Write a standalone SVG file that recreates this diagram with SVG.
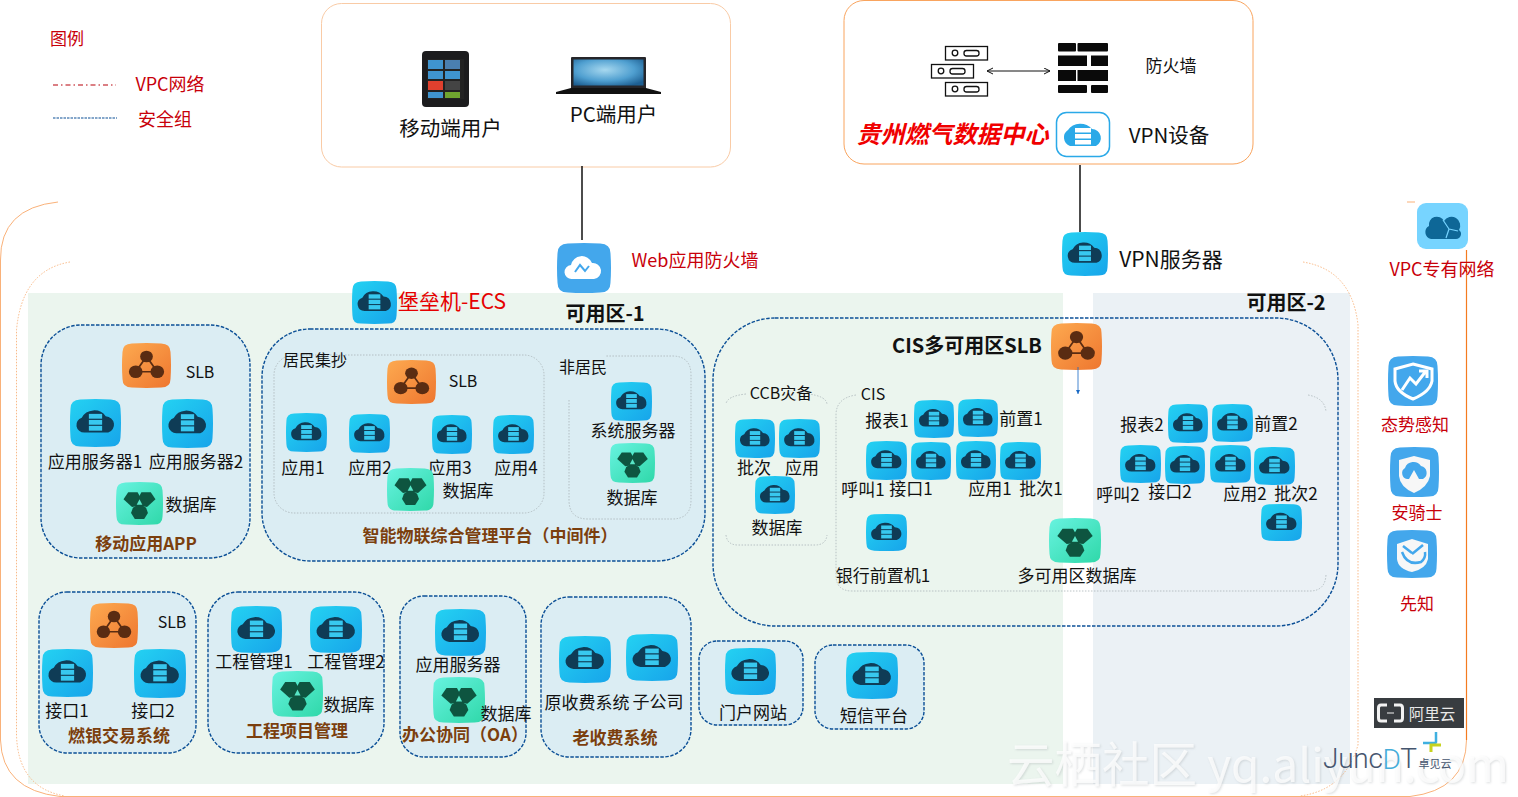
<svg xmlns="http://www.w3.org/2000/svg" width="1518" height="797" viewBox="0 0 1518 797">
<style>
text{font-family:"Noto Sans CJK SC","Noto Sans",sans-serif;dominant-baseline:central;text-anchor:middle;fill:#111;font-size:17px;transform:translateY(-1.5px)}
.r{fill:#c8000a;font-size:18px}
.b{fill:#7b3f0e;font-size:17px;font-weight:700}
.h{font-weight:700;font-size:20px;fill:#111}
.sg{fill:#dbedf3;stroke:#0b4f96;stroke-width:1.4;stroke-dasharray:3.500 1.500}
.in{fill:none;stroke:#aab4b8;stroke-width:.8;stroke-dasharray:1.5 1.5}
.vpc{fill:none;stroke:#f8a86a;stroke-width:.9}
.vpc2{fill:none;stroke:#f8a86a;stroke-width:.8;stroke-dasharray:1.5 1.5}
.link{stroke:#111;stroke-width:1.5;fill:none}
</style>
<defs>
<linearGradient id="gs" x1="0" y1="0" x2="1" y2="1"><stop offset="0" stop-color="#24d2f2"/><stop offset="1" stop-color="#17a4ea"/></linearGradient>
<linearGradient id="go" x1="0" y1="0" x2="1" y2="1"><stop offset="0" stop-color="#fdaa50"/><stop offset="1" stop-color="#ee762f"/></linearGradient>
<linearGradient id="gd" x1="0" y1="0" x2="1" y2="1"><stop offset="0" stop-color="#68f3e0"/><stop offset="1" stop-color="#2fd8a9"/></linearGradient>
<radialGradient id="gl" cx=".45" cy=".4" r=".7"><stop offset="0" stop-color="#a7d8ef"/><stop offset=".6" stop-color="#4f9fd0"/><stop offset="1" stop-color="#1d5f92"/></radialGradient>
<marker id="ab" markerWidth="6" markerHeight="6" refX="5" refY="2.5" orient="auto"><path d="M0 0L5 2.5L0 5Z" fill="#1768c4"/></marker>
<marker id="ak" markerWidth="8" markerHeight="8" refX="7" refY="3.5" orient="auto-start-reverse"><path d="M1 .5L7 3.5L1 6.5" fill="none" stroke="#111"/></marker>
<filter id="wm" x="-5%" y="-20%" width="110%" height="140%"><feDropShadow dx="1" dy="1" stdDeviation="1" flood-color="#9aa0a4" flood-opacity=".45"/></filter>
<path id="sq" d="M10 .5Q25 -.5 40 .5Q49.500 1 49.500 10Q50.500 25 49.500 40Q49.500 49.500 40 49.500Q25 50.500 10 49.500Q.5 49.500 .5 40Q-.5 25 .5 10Q.5 1 10 .5Z"/>
<symbol id="srv" viewBox="0 0 50 50" preserveAspectRatio="none">
<use href="#sq" fill="url(#gs)"/>
<path d="M14 35A8 8 0 0 1 11.500 19.500A13.500 13.500 0 0 1 35 18A8.800 8.800 0 0 1 37.500 35Z" fill="#0f3c56"/>
<rect x="18.500" y="15.500" width="13" height="5" fill="#38c8ef"/><rect x="18.500" y="21.800" width="13" height="5" fill="#38c8ef"/><rect x="18.500" y="28" width="13" height="5" fill="#38c8ef"/>
</symbol>
<symbol id="slb" viewBox="0 0 50 50" preserveAspectRatio="none">
<use href="#sq" fill="url(#go)"/>
<path d="M25 15L14 32H36Z" fill="none" stroke="#5a2c12" stroke-width="1.800"/>
<circle cx="25" cy="15" r="6.500" fill="#5a2c12"/><circle cx="14" cy="32" r="7" fill="#5a2c12"/><circle cx="36" cy="32" r="7" fill="#5a2c12"/>
</symbol>
<symbol id="db" viewBox="0 0 50 50" preserveAspectRatio="none">
<use href="#sq" fill="url(#gd)"/>
<g fill="#0e5540"><path d="M13 12H23L27 20L23 28L17 29L8 20Z"/><path d="M37 12H27L23 20L27 28L33 29L42 20Z"/><path d="M18 30L25 25L32 30L34 36L30 43H20L16 36Z"/></g>
<path d="M25 20L28 26.500H22Z" fill="#58e5c6"/>
</symbol>
<symbol id="blue" viewBox="0 0 50 50" preserveAspectRatio="none"><use href="#sq" fill="#43a7ec"/></symbol>
</defs>

<g id="zones">
<rect x="28" y="293" width="1035" height="491" fill="#ebf5ee"/>
<rect x="1093" y="293" width="257" height="491" fill="#ebf1f5"/>
</g>
<g id="vpc-frame">
<path class="vpc" d="M58 202Q0 208 .5 260V740Q2 790 60 796.500H1410Q1466 790 1466.500 740M1407 202H1415" />
<path style="fill:none;stroke:#f47b20;stroke-width:1.200" d="M1466.500 250V740"/>
<path class="vpc2" d="M70 262Q22 270 16.500 330V735Q18 788 65 796M1303 262Q1352 270 1358 325V745Q1345 790 1300 796"/>
</g>

<g id="legend">
<text class="r" x="67" y="39" style="font-size:17px">图例</text>
<path d="M53 85H116" stroke="#b8000a" stroke-width="1.200" stroke-dasharray="5 3 1.500 3"/>
<text class="r" x="170" y="84">VPC网络</text>
<path d="M53 118H117" stroke="#0b4f96" stroke-width="1.200" stroke-dasharray="2.500 1"/>
<text class="r" x="165" y="119">安全组</text>
</g>

<g id="users">
<rect x="321.500" y="3.500" width="409" height="163.500" rx="20" fill="#fff" stroke="#f9cba6"/>
<g id="phone"><rect x="422" y="51" width="47" height="56" rx="4" fill="#1c1c1e"/>
<rect x="427" y="59" width="37" height="40" fill="#222"/>
<rect x="428" y="60" width="15" height="9" fill="#3f94cf"/><rect x="445" y="60" width="15" height="9" fill="#4a7fb0"/>
<rect x="428" y="71" width="15" height="8" fill="#3f94cf"/><rect x="445" y="71" width="15" height="8" fill="#3f94cf"/>
<rect x="428" y="81" width="15" height="9" fill="#e0402e"/><rect x="445" y="81" width="15" height="9" fill="#444"/>
<rect x="428" y="92" width="15" height="6" fill="#3f94cf"/><rect x="445" y="92" width="15" height="6" fill="#6fa52f"/></g>
<g id="laptop"><rect x="571" y="57" width="75" height="32" rx="1" fill="#26262a"/><rect x="573.500" y="59.500" width="70" height="26" fill="url(#gl)"/>
<path d="M571 88H646L661 92V94H556V92Z" fill="#111"/></g>
<text x="450.500" y="128" style="font-size:20.500px">移动端用户</text>
<text x="613.500" y="114" style="font-size:20.500px">PC端用户</text>
</g>

<g id="datacenter">
<rect x="844" y=".5" width="409" height="163.500" rx="20" fill="#fff" stroke="#f9a45e"/>
<g id="servers" fill="none" stroke="#111" stroke-width="1.300">
<rect x="945.500" y="46.500" width="42" height="13.500"/><circle cx="955" cy="53" r="2.800"/><rect x="964" y="50.500" width="15" height="5.500" rx="2.500"/>
<rect x="931.500" y="64.500" width="42" height="13.500"/><circle cx="941" cy="71" r="2.800"/><rect x="950" y="68.500" width="15" height="5.500" rx="2.500"/>
<rect x="945.500" y="82.500" width="42" height="13.500"/><circle cx="955" cy="89" r="2.800"/><rect x="964" y="86.500" width="15" height="5.500" rx="2.500"/>
</g>
<g id="firewall" fill="#0a0a0a"><rect x="1058" y="43" width="18" height="8.500" rx="1"/><rect x="1077.500" y="43" width="30.500" height="8.500" rx="1"/>
<rect x="1058" y="55.500" width="29" height="10.500"/><rect x="1091" y="55.500" width="17" height="10.500"/>
<rect x="1058" y="70" width="18" height="11"/><rect x="1077.500" y="70" width="30.500" height="11"/>
<rect x="1058" y="85" width="29" height="8" rx="1"/><rect x="1091" y="85" width="17" height="8" rx="1"/></g>
<text x="1171" y="66">防火墙</text>
<text x="952.500" y="134" style="font-size:24px;font-weight:700;font-style:italic;fill:#f00000">贵州燃气数据中心</text>
<g id="vpn-device"><rect x="1056.500" y="112.500" width="53" height="44" rx="10" fill="#fff" stroke="#2aa9e8" stroke-width="1.500"/>
<path d="M1070 146A9 9 0 0 1 1068 130A14 12 0 0 1 1092 129A9 9 0 0 1 1096 146Z" fill="#2aa9e8"/>
<rect x="1075" y="128" width="16" height="4.500" fill="#fff"/><rect x="1075" y="134" width="16" height="4.500" fill="#fff"/><rect x="1075" y="140" width="16" height="4.500" fill="#fff"/></g>
<text x="1169" y="135" style="font-size:20.500px">VPN设备</text>
</g>

<g id="waf"><use href="#blue" x="557" y="243" width="54" height="50"/>
<path d="M572 279A7 7 0 0 1 571 265A11 11 0 0 1 592 263A8 8 0 0 1 594 279Z" fill="#fff"/>
<path d="M575 272L580 265L585 271L589 266" stroke="#43a7ec" stroke-width="2" fill="none"/>
<text class="r" x="695" y="260">Web应用防火墙</text></g>
<g id="vpn-server"><use href="#srv" x="1062" y="232" width="46" height="44"/><text x="1171" y="259" style="font-size:21px">VPN服务器</text></g>
<g id="bastion"><use href="#srv" x="352" y="281" width="45" height="43"/><text x="452" y="301" style="font-size:21px;fill:#e60000">堡垒机-ECS</text></g>
<text class="h" x="605" y="314">可用区-1</text>
<text class="h" x="1286" y="303">可用区-2</text>

<g id="vpc-icon"><rect x="1417" y="203" width="51" height="46" rx="9" fill="#77d4ff"/>
<path d="M1431 239A7 7 0 0 1 1429 226A8 8 0 0 1 1444 221A8 8 0 0 1 1459 230A5 5 0 0 1 1456 239Z" fill="#0e6797"/>
<path d="M1443 220L1449 229L1446 238M1449 229L1458 231" stroke="#77d4ff" stroke-width="1.200" fill="none"/>
<text class="r" x="1442" y="269">VPC专有网络</text></g>

<g id="sec1"><rect class="sg" x="41" y="325" width="209" height="233" rx="40"/>
<use href="#slb" x="122" y="343" width="49" height="45"/><text x="200" y="372" style="font-size:16px">SLB</text>
<use href="#srv" x="70" y="399" width="51" height="48"/><use href="#srv" x="162" y="399" width="51" height="49"/>
<text x="95" y="462">应用服务器1</text><text x="196" y="462">应用服务器2</text>
<use href="#db" x="116" y="482" width="47" height="43"/><text x="191" y="505">数据库</text>
<text class="b" x="146" y="544">移动应用APP</text></g>

<g id="sec2"><rect class="sg" x="262" y="329" width="443" height="232" rx="48"/>
<rect class="in" x="274" y="355" width="270" height="158" rx="20"/>
<path class="in" d="M569 400V500Q569 519 588 519H672Q691 519 691 500V375Q691 356 672 356H605"/>
<text x="315" y="360" style="font-size:16px">居民集抄</text><text x="583" y="367" style="font-size:16px">非居民</text>
<use href="#slb" x="387" y="360" width="49" height="44"/><text x="463" y="381" style="font-size:16px">SLB</text>
<use href="#srv" x="286" y="413" width="41" height="39"/><use href="#srv" x="349" y="414" width="41" height="39"/>
<use href="#srv" x="432" y="415" width="40" height="39"/><use href="#srv" x="493" y="415" width="41" height="39"/>
<text x="303" y="468">应用1</text><text x="370" y="468">应用2</text><text x="450" y="468">应用3</text><text x="516" y="468">应用4</text>
<use href="#db" x="387" y="468" width="47" height="43"/><text x="468" y="491">数据库</text>
<use href="#srv" x="611" y="382" width="41" height="39"/><text x="633" y="431">系统服务器</text>
<use href="#db" x="610" y="443" width="45" height="40"/><text x="632" y="498">数据库</text>
<text class="b" x="490" y="536">智能物联综合管理平台（中间件）</text></g>

<g id="sec3"><rect class="sg" style="fill:none" x="713" y="318" width="625" height="308" rx="62"/>
<text class="h" x="967" y="346">CIS多可用区SLB</text>
<use href="#slb" x="1051" y="323" width="51" height="47"/>
<path class="in" d="M746 394Q727 396 726 404M808 394Q826 396 827 404M726 535Q727 545 738 545H815Q826 545 827 535"/>
<path class="in" d="M856 395Q836 398 836 415V575Q836 591 852 591H1310Q1325 591 1326 575M1308 395Q1325 398 1326 412"/>
<text x="781" y="393" style="font-size:16px">CCB灾备</text><text x="873" y="394" style="font-size:16px">CIS</text>
<use href="#srv" x="735" y="419" width="40" height="39"/><use href="#srv" x="779" y="419" width="41" height="39"/>
<text x="754" y="468">批次</text><text x="802" y="468">应用</text>
<use href="#srv" x="755" y="476" width="40" height="38"/><text x="777" y="528">数据库</text>
<text x="887" y="421">报表1</text><use href="#srv" x="914" y="400" width="40" height="38"/><use href="#srv" x="958" y="399" width="40" height="38"/><text x="1021" y="419">前置1</text>
<use href="#srv" x="866" y="441" width="41" height="39"/><use href="#srv" x="911" y="442" width="40" height="38"/><use href="#srv" x="956" y="441" width="40" height="39"/><use href="#srv" x="1000" y="442" width="41" height="38"/>
<text x="863" y="490">呼叫1</text><text x="911" y="489">接口1</text><text x="990" y="489">应用1</text><text x="1041" y="489">批次1</text>
<use href="#srv" x="866" y="514" width="41" height="37"/><text x="883" y="576">银行前置机1</text>
<use href="#db" x="1049" y="518" width="52" height="45"/><text x="1077" y="576">多可用区数据库</text>
<text x="1142" y="425">报表2</text><use href="#srv" x="1168" y="404" width="40" height="39"/><use href="#srv" x="1212" y="404" width="41" height="38"/><text x="1276" y="424">前置2</text>
<use href="#srv" x="1120" y="445" width="41" height="38"/><use href="#srv" x="1165" y="446" width="40" height="38"/><use href="#srv" x="1210" y="445" width="41" height="38"/><use href="#srv" x="1254" y="447" width="41" height="38"/>
<text x="1118" y="495">呼叫2</text><text x="1170" y="492">接口2</text><text x="1245" y="494">应用2</text><text x="1296" y="494">批次2</text>
<use href="#srv" x="1261" y="504" width="41" height="37"/></g>

<g id="sec4"><rect class="sg" x="39" y="592" width="157" height="161" rx="28"/>
<use href="#slb" x="90" y="603" width="48" height="45"/><text x="172" y="622" style="font-size:16px">SLB</text>
<use href="#srv" x="42" y="649" width="51" height="48"/><use href="#srv" x="134" y="649" width="52" height="49"/>
<text x="67" y="711">接口1</text><text x="153" y="711">接口2</text>
<text class="b" x="119" y="736">燃银交易系统</text></g>

<g id="sec5"><rect class="sg" x="208" y="592" width="176" height="161" rx="30"/>
<use href="#srv" x="231" y="606" width="51" height="47"/><use href="#srv" x="310" y="606" width="52" height="47"/>
<text x="254" y="662">工程管理1</text><text x="346" y="662">工程管理2</text>
<use href="#db" x="272" y="671" width="51" height="46"/><text x="349" y="705">数据库</text>
<text class="b" x="297" y="731">工程项目管理</text></g>

<g id="sec6"><rect class="sg" x="400" y="596" width="126" height="161" rx="24"/>
<use href="#srv" x="435" y="609" width="51" height="47"/><text x="458" y="665">应用服务器</text>
<use href="#db" x="433" y="677" width="52" height="46"/><text x="506" y="714">数据库</text>
<text class="b" x="465" y="735">办公协同（OA）</text></g>

<g id="sec7"><rect class="sg" x="541" y="597" width="150" height="160" rx="28"/>
<use href="#srv" x="559" y="636" width="52" height="47"/><use href="#srv" x="626" y="634" width="52" height="47"/>
<text x="587" y="703">原收费系统</text><text x="658" y="702">子公司</text>
<text class="b" x="615" y="738">老收费系统</text></g>

<g id="sec8"><rect class="sg" x="699" y="641" width="104" height="84" rx="18"/>
<use href="#srv" x="725" y="648" width="51" height="47"/><text x="753" y="713">门户网站</text></g>

<g id="sec9"><rect class="sg" x="815" y="645" width="109" height="84" rx="18"/>
<use href="#srv" x="846" y="652" width="52" height="47"/><text x="874" y="716">短信平台</text></g>

<g id="situation"><use href="#blue" x="1388" y="356" width="50" height="50"/>
<path d="M1413 364L1432 369V381Q1430 392 1413 399Q1396 392 1395 381V369Z" fill="none" stroke="#fff" stroke-width="3"/>
<path d="M1402 390L1410 378L1416 384L1426 371M1419 371H1427V378" fill="none" stroke="#fff" stroke-width="3"/>
<text class="r" x="1415" y="425" style="font-size:17px">态势感知</text></g>
<g id="aegis"><use href="#blue" x="1390" y="447" width="49" height="50"/>
<path d="M1414 456L1430 460V476Q1428 487 1414 493Q1400 487 1399 476V460Z" fill="#f7f7f7"/>
<path d="M1407 479A6 6 0 0 1 1405 468A9 9 0 0 1 1421 466A7 7 0 0 1 1423 479H1419L1414 470L1409 479Z" fill="#43a7ec"/>
<text class="r" x="1417" y="513" style="font-size:17px">安骑士</text></g>
<g id="xianzhi"><use href="#blue" x="1387" y="530" width="50" height="48"/>
<path d="M1412 539L1428 544V559Q1426 569 1412 572Q1398 569 1397 559V544Z" fill="#f7f7f7"/>
<path d="M1402 552Q1407 566 1421 562Q1426 558 1425 552M1403 546L1412 553M1423 545L1412 554" fill="none" stroke="#43a7ec" stroke-width="2.500"/>
<text class="r" x="1417" y="604" style="font-size:17px">先知</text></g>

<g id="connectors">
<path class="link" d="M582 166V240"/>
<path class="link" d="M1080 165V232"/>
<path class="link" style="stroke-width:1" marker-start="url(#ak)" marker-end="url(#ak)" d="M987 71H1050"/>
<path d="M1078 367V394" stroke="#1768c4" stroke-width=".8" fill="none" marker-end="url(#ab)"/>
</g>

<g id="watermark" filter="url(#wm)"><text x="1102" y="763" style="font-size:47.500px;fill:#fff;fill-opacity:.75">云栖社区</text><text x="1358" y="763" style="font-size:46px;fill:#fff;fill-opacity:.75">yq.aliyun.com</text></g>

<g id="aliyun-logo"><rect x="1374" y="698" width="90" height="30" fill="#383c40"/>
<path d="M1387 705H1381Q1378.500 705 1378.500 708V718Q1378.500 721 1381 721H1387M1394 705H1400Q1402.500 705 1402.500 708V718Q1402.500 721 1400 721H1394" fill="none" stroke="#f2f2f2" stroke-width="3"/>
<path d="M1387 713H1394" stroke="#f2f2f2" stroke-width="1"/>
<text x="1432" y="714" style="font-size:15.500px;fill:#e8e8e8">阿里云</text></g>
<g id="juncdt-logo">
<path d="M1436 732V742Q1436 743 1434 743H1423" fill="none" stroke="#3fb0e0" stroke-width="2.500"/>
<path d="M1431 752V745H1441" fill="none" stroke="#c7d21f" stroke-width="3"/>
<text x="1323" y="760" textLength="94" style="text-anchor:start;font-size:28px;font-weight:300;font-family:Roboto,sans-serif;fill:#45556e">Junc<tspan fill="#45add9">D</tspan>T</text>
<text x="1435" y="764" style="font-size:11px;fill:#45556e">卓见云</text></g>
</svg>
